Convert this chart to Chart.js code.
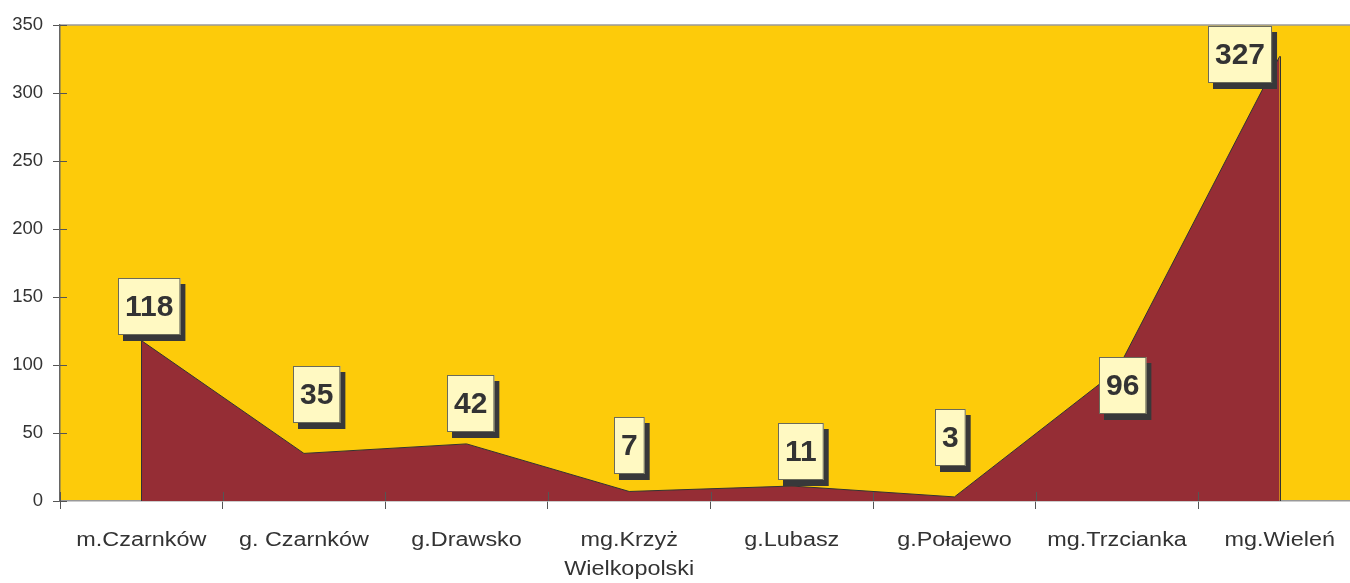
<!DOCTYPE html>
<html>
<head>
<meta charset="utf-8">
<script src="https://cdn.jsdelivr.net/npm/chart.js@4/dist/chart.umd.min.js"></script>
<style>
  html, body { margin: 0; padding: 0; background: #ffffff; overflow: hidden; }
  #wrap { width: 1350px; height: 583px; overflow: hidden; position: relative; }
  canvas { display: block; }
</style>
</head>
<body>
<div id="wrap"><canvas id="c" width="1361" height="583"></canvas></div>
<script>
// ---- data ----
const categories = ['m.Czarnków', 'g. Czarnków', 'g.Drawsko', ['mg.Krzyż', 'Wielkopolski'], 'g.Lubasz', 'g.Połajewo', 'mg.Trzcianka', 'mg.Wieleń'];
const values = [118, 35, 42, 7, 11, 3, 96, 327];
const yTicks = [0, 50, 100, 150, 200, 250, 300, 350];

// label box placement (pixel offsets from the point: dx, gap below box)
const labelShift = [[8, 6], [13, 30], [4, 12], [0, 17], [9, 6], [-4, 31], [6, -44], [-40, -27]];

const FONT = '"Liberation Sans", Arial, Helvetica, sans-serif';
const TEXT = '#333333';

const plotBg = {
  id: 'plotBg',
  beforeDraw(chart) {
    const a = chart.chartArea, ctx = chart.ctx;
    ctx.save();
    ctx.fillStyle = '#FDCB0A';
    ctx.fillRect(a.left, a.top, a.right - a.left, a.bottom - a.top);
    ctx.restore();
  }
};

const extras = {
  id: 'extras',
  afterDraw(chart) {
    const a = chart.chartArea, ctx = chart.ctx;
    const meta = chart.getDatasetMeta(0);
    const y0 = chart.scales.y.getPixelForValue(0);
    ctx.save();
    // vertical edges of the area
    ctx.strokeStyle = '#333333';
    ctx.lineWidth = 1;
    const first = meta.data[0], last = meta.data[meta.data.length - 1];
    ctx.beginPath();
    ctx.moveTo(Math.round(first.x) + 0.5, first.y);
    ctx.lineTo(Math.round(first.x) + 0.5, y0);
    ctx.moveTo(Math.round(last.x) + 0.5, last.y);
    ctx.lineTo(Math.round(last.x) + 0.5, y0);
    ctx.stroke();
    // top border
    ctx.strokeStyle = '#9a9a9a';
    ctx.lineWidth = 1.5;
    ctx.beginPath();
    ctx.moveTo(a.left, a.top);
    ctx.lineTo(a.right, a.top);
    ctx.stroke();
    // inward tick marks
    ctx.strokeStyle = '#555555';
    ctx.lineWidth = 1;
    ctx.beginPath();
    yTicks.forEach(v => {
      const py = Math.round(chart.scales.y.getPixelForValue(v)) + 0.5;
      ctx.moveTo(a.left, py);
      ctx.lineTo(a.left + 7, py);
    });
    for (let i = 0; i <= categories.length; i++) {
      const px = Math.round(a.left + (a.right - a.left) * i / categories.length) + 0.5;
      ctx.moveTo(px, a.bottom);
      ctx.lineTo(px, a.bottom - 9);
    }
    ctx.stroke();

    // category labels (slightly wide lettering as in the original)
    const xs = chart.scales.x;
    ctx.fillStyle = TEXT;
    ctx.font = '19.5px ' + FONT;
    ctx.textAlign = 'center';
    ctx.textBaseline = 'middle';
    categories.forEach((c, i) => {
      const lines = Array.isArray(c) ? c : [c];
      const cx = xs.getPixelForTick(i);
      lines.forEach((ln, j) => {
        ctx.save();
        ctx.translate(cx, a.bottom + 40 + j * 29);
        ctx.scale(1.2, 1);
        ctx.fillText(ln, 0, 0);
        ctx.restore();
      });
    });

    // data label boxes
    ctx.font = 'bold 30px ' + FONT;
    ctx.textAlign = 'center';
    ctx.textBaseline = 'middle';
    meta.data.forEach((pt, i) => {
      const txt = String(values[i]);
      const w = ctx.measureText(txt).width + 14;
      const h = 57;
      const cx = pt.x + labelShift[i][0];
      const bottom = pt.y - labelShift[i][1];
      const left = Math.round(cx - w / 2), top = Math.round(bottom - h);
      ctx.fillStyle = '#38383a';
      ctx.fillRect(left + 5, top + 6, w, h);
      ctx.fillStyle = '#FFF9C2';
      ctx.fillRect(left, top, w, h);
      ctx.strokeStyle = '#6b6b5a';
      ctx.lineWidth = 1;
      ctx.strokeRect(left + 0.5, top + 0.5, w - 1, h - 1);
      ctx.fillStyle = TEXT;
      ctx.fillText(txt, left + w / 2, top + h / 2 + 1);
    });
    ctx.restore();
  }
};

new Chart(document.getElementById('c'), {
  type: 'line',
  data: {
    labels: categories,
    datasets: [{
      data: values,
      fill: 'origin',
      backgroundColor: '#952D35',
      borderColor: '#333333',
      borderWidth: 1,
      pointRadius: 0,
      tension: 0
    }]
  },
  options: {
    responsive: false,
    animation: false,
    layout: { padding: { top: 25, right: 0, left: 0, bottom: 0 } },
    plugins: { legend: { display: false }, tooltip: { enabled: false } },
    scales: {
      x: {
        offset: true,
        grid: { offset: true, drawOnChartArea: false, drawTicks: true, tickLength: 8, color: '#555555' },
        border: { display: true, color: '#999999', width: 1.5 },
        ticks: { color: 'rgba(0,0,0,0)', font: { family: FONT, size: 19, lineHeight: 1.55 }, padding: 16, maxRotation: 0, autoSkip: false },
        afterFit(scale) { scale.height = 82; }
      },
      y: {
        min: 0, max: 350,
        afterBuildTicks(scale) { scale.ticks = yTicks.map(v => ({ value: v })); },
        grid: { drawOnChartArea: false, drawTicks: true, tickLength: 7, color: '#555555' },
        border: { display: true, color: '#666666', width: 1.5 },
        ticks: { color: TEXT, font: { family: FONT, size: 18.5 }, padding: 10 },
        afterFit(scale) { scale.width = 60; }
      }
    }
  },
  plugins: [plotBg, extras]
});
</script>
</body>
</html>
